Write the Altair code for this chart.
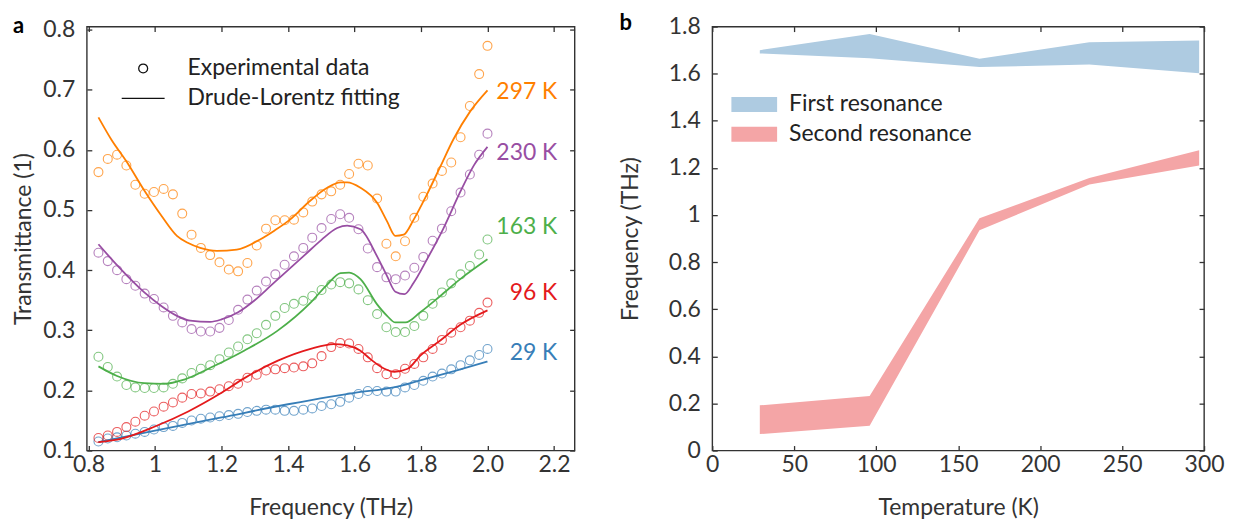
import altair as alt
import pandas as pd

FONT = "Lato"

# ---------------- panel a : transmittance spectra ----------------
freq = [0.830, 0.858, 0.886, 0.914, 0.941, 0.969, 0.997, 1.026, 1.054, 1.082,
        1.110, 1.138, 1.166, 1.194, 1.222, 1.250, 1.278, 1.306, 1.334, 1.362,
        1.390, 1.418, 1.446, 1.473, 1.501, 1.530, 1.557, 1.584, 1.612, 1.640,
        1.668, 1.696, 1.724, 1.752, 1.780, 1.807, 1.835, 1.863, 1.891, 1.919,
        1.947, 1.975, 2.000]

exp_29 = [0.115, 0.120, 0.122, 0.125, 0.128, 0.131, 0.135, 0.139, 0.141, 0.146,
          0.150, 0.153, 0.155, 0.157, 0.159, 0.161, 0.164, 0.166, 0.168, 0.168,
          0.166, 0.166, 0.168, 0.170, 0.174, 0.177, 0.181, 0.188, 0.194, 0.199,
          0.199, 0.198, 0.198, 0.205, 0.209, 0.216, 0.223, 0.228, 0.235, 0.242,
          0.250, 0.259, 0.269]
exp_96 = [0.121, 0.125, 0.131, 0.139, 0.148, 0.158, 0.165, 0.173, 0.180, 0.188,
          0.194, 0.195, 0.198, 0.202, 0.207, 0.211, 0.221, 0.226, 0.233, 0.235,
          0.237, 0.238, 0.240, 0.245, 0.257, 0.272, 0.279, 0.278, 0.269, 0.255,
          0.237, 0.227, 0.227, 0.236, 0.244, 0.255, 0.269, 0.284, 0.296, 0.305,
          0.316, 0.329, 0.346]
exp_163 = [0.256, 0.239, 0.223, 0.209, 0.205, 0.204, 0.204, 0.205, 0.211, 0.220,
           0.229, 0.236, 0.242, 0.252, 0.263, 0.273, 0.285, 0.295, 0.309, 0.324,
           0.337, 0.344, 0.349, 0.357, 0.367, 0.376, 0.380, 0.378, 0.368, 0.350,
           0.327, 0.305, 0.297, 0.297, 0.307, 0.324, 0.344, 0.363, 0.378, 0.393,
           0.407, 0.426, 0.451]
exp_230 = [0.429, 0.415, 0.400, 0.385, 0.374, 0.361, 0.352, 0.338, 0.324, 0.313,
           0.302, 0.298, 0.298, 0.304, 0.317, 0.334, 0.351, 0.366, 0.381, 0.393,
           0.409, 0.423, 0.437, 0.454, 0.470, 0.485, 0.493, 0.487, 0.468, 0.436,
           0.405, 0.388, 0.385, 0.391, 0.404, 0.422, 0.449, 0.469, 0.498, 0.529,
           0.559, 0.592, 0.627]
exp_297 = [0.563, 0.585, 0.592, 0.574, 0.542, 0.527, 0.530, 0.535, 0.526, 0.494,
           0.459, 0.437, 0.425, 0.413, 0.401, 0.398, 0.412, 0.441, 0.469, 0.483,
           0.483, 0.484, 0.496, 0.514, 0.526, 0.531, 0.542, 0.560, 0.577, 0.574,
           0.519, 0.444, 0.423, 0.448, 0.487, 0.522, 0.544, 0.565, 0.579, 0.621,
           0.673, 0.726, 0.773]

fit_29_f = [0.83, 1.0, 1.2, 1.4, 1.52, 1.6, 1.718, 1.8, 1.9, 2.0]
fit_29_v = [0.114, 0.133, 0.155, 0.177, 0.189, 0.196, 0.205, 0.217, 0.232, 0.248]
fit_96_f = [0.83, 0.9, 1.0, 1.1, 1.2, 1.268, 1.368, 1.468, 1.538, 1.578, 1.618,
            1.648, 1.69, 1.72, 1.76, 1.798, 1.858, 1.918, 2.0]
fit_96_v = [0.114, 0.120, 0.140, 0.165, 0.196, 0.220, 0.249, 0.269, 0.277, 0.275, 0.266,
            0.252, 0.236, 0.231, 0.236, 0.258, 0.283, 0.309, 0.333]
fit_163_f = [0.83, 0.886, 0.968, 1.028, 1.088, 1.168, 1.268, 1.368, 1.468, 1.518, 1.558,
             1.584, 1.618, 1.668, 1.698, 1.723, 1.753, 1.798, 1.858, 1.918, 2.0]
fit_163_v = [0.240, 0.224, 0.212, 0.211, 0.218, 0.238, 0.266, 0.299, 0.346, 0.376, 0.395,
             0.396, 0.385, 0.343, 0.324, 0.313, 0.313, 0.330, 0.357, 0.385, 0.418]
fit_230_f = [0.83, 0.888, 0.968, 1.02, 1.066, 1.106, 1.166, 1.2, 1.25, 1.3, 1.35, 1.4,
             1.45, 1.5, 1.548, 1.578, 1.618, 1.668, 1.698, 1.723, 1.75, 1.778, 1.818,
             1.868, 1.918, 1.96, 2.0]
fit_230_v = [0.443, 0.407, 0.363, 0.340, 0.324, 0.316, 0.314, 0.318, 0.330, 0.350, 0.375, 0.400,
             0.425, 0.450, 0.470, 0.474, 0.468, 0.423, 0.390, 0.364, 0.360, 0.379, 0.418,
             0.470, 0.530, 0.575, 0.605]
fit_297_f = [0.83, 0.87, 0.914, 0.966, 1.02, 1.066, 1.10, 1.136, 1.186, 1.246, 1.316, 1.36,
             1.406, 1.466, 1.518, 1.558, 1.578, 1.618, 1.668, 1.698, 1.723, 1.748, 1.778,
             1.818, 1.858, 1.898, 1.948, 2.0]
fit_297_v = [0.654, 0.616, 0.581, 0.534, 0.490, 0.457, 0.445, 0.437, 0.432, 0.434, 0.451, 0.466,
             0.484, 0.515, 0.537, 0.546, 0.546, 0.537, 0.512, 0.481, 0.457, 0.459, 0.484,
             0.526, 0.572, 0.618, 0.664, 0.699]

series_names = ["297 K", "230 K", "163 K", "96 K", "29 K"]
series_colors = ["#ff7f00", "#984ea3", "#4daf4a", "#e41a1c", "#377eb8"]
label_pos_f = 2.21
label_pos_v = [0.697, 0.595, 0.4715, 0.3627, 0.263]
legend_a_items = ["Experimental data", "Drude-Lorentz fitting"]

x_ticks_a = [0.8, 1.0, 1.2, 1.4, 1.6, 1.8, 2.0, 2.2]
y_ticks_a = [0.1, 0.2, 0.3, 0.4, 0.5, 0.6, 0.7, 0.8]

# ---------------- panel b : resonance bands ----------------
temps = [29, 96, 163, 230, 297]
first_lo = [1.686, 1.666, 1.628, 1.639, 1.602]
first_hi = [1.700, 1.769, 1.663, 1.733, 1.741]
second_lo = [0.070, 0.105, 0.935, 1.130, 1.210]
second_hi = [0.192, 0.232, 0.986, 1.157, 1.275]
band_names = ["First resonance", "Second resonance"]
band_colors = ["#aecbe1", "#f4a5a6"]
x_ticks_b = [0, 50, 100, 150, 200, 250, 300]
y_ticks_b = [0, 0.2, 0.4, 0.6, 0.8, 1.0, 1.2, 1.4, 1.6, 1.8]

# ---------------- tables ----------------
exp_map = {"29 K": exp_29, "96 K": exp_96, "163 K": exp_163, "230 K": exp_230, "297 K": exp_297}
fit_map = {"29 K": (fit_29_f, fit_29_v), "96 K": (fit_96_f, fit_96_v),
           "163 K": (fit_163_f, fit_163_v), "230 K": (fit_230_f, fit_230_v),
           "297 K": (fit_297_f, fit_297_v)}

pts = pd.DataFrame([{"f": f, "v": v, "series": s, "kind": legend_a_items[0]}
                    for s, vals in exp_map.items() for f, v in zip(freq, vals)])
fits = pd.DataFrame([{"f": f, "v": v, "series": s}
                     for s, (fs, vs) in fit_map.items() for f, v in zip(fs, vs)])
labs = pd.DataFrame({"f": [label_pos_f] * 5, "v": label_pos_v, "series": series_names})

bands = pd.DataFrame(
    [{"T": t, "lo": lo, "hi": hi, "res": band_names[0]} for t, lo, hi in zip(temps, first_lo, first_hi)]
    + [{"T": t, "lo": lo, "hi": hi, "res": band_names[1]} for t, lo, hi in zip(temps, second_lo, second_hi)]
)

FS = 23
frame = alt.ViewBackground(stroke="#333333", strokeWidth=1.4)

# ---------------- panel a chart ----------------
xa = alt.Scale(domain=[0.795, 2.262], nice=False, zero=False)
ya = alt.Scale(domain=[0.1, 0.805], nice=False, zero=False)
col = alt.Scale(domain=series_names, range=series_colors)

leg_a = alt.Legend(orient="none", legendX=34, legendY=31, title=None,
                   symbolStrokeColor="#111111", symbolStrokeWidth=1.3,
                   symbolFillColor="transparent", symbolOpacity=1,
                   labelFont=FONT, labelFontSize=FS, labelColor="#222222", labelLimit=0,
                   labelOffset=22, clipHeight=22, rowPadding=7, padding=0)

points = alt.Chart(pts).mark_point(filled=False, strokeWidth=1.1).encode(
    x=alt.X("f:Q", scale=xa,
            axis=alt.Axis(values=x_ticks_a, title="Frequency (THz)",
                          labelExpr="datum.value == 2 ? '2.0' : format(datum.value, '~g')")),
    y=alt.Y("v:Q", scale=ya,
            axis=alt.Axis(values=y_ticks_a, format="~g", title="Transmittance (1)", titlePadding=7)),
    color=alt.Color("series:N", scale=col, legend=None),
    shape=alt.Shape("kind:N", scale=alt.Scale(domain=legend_a_items, range=["circle", "stroke"]),
                    legend=leg_a),
    size=alt.Size("kind:N", scale=alt.Scale(type="ordinal", domain=legend_a_items, range=[80, 1849]),
                  legend=leg_a),
)

lines = alt.Chart(fits).mark_line(strokeWidth=1.8, interpolate="monotone").encode(
    x=alt.X("f:Q", scale=xa, axis=alt.Axis(orient="top", values=x_ticks_a, labels=False, title=None)),
    y=alt.Y("v:Q", scale=ya, axis=alt.Axis(orient="right", values=y_ticks_a, labels=False, title=None)),
    color=alt.Color("series:N", scale=col, legend=None),
)

texts = alt.Chart(labs).mark_text(align="right", baseline="middle", font=FONT, fontSize=FS).encode(
    x=alt.X("f:Q", scale=xa, axis=None),
    y=alt.Y("v:Q", scale=ya, axis=None),
    text="series:N",
    color=alt.Color("series:N", scale=col, legend=None),
)

panel_a = alt.layer(points, lines, texts).resolve_axis(x="independent", y="independent").properties(
    width=489, height=425, view=frame,
    title=alt.TitleParams(text="a", anchor="start", frame="group", dx=-74, fontSize=22,
                          fontWeight="bold", font=FONT, color="#000000", offset=-19),
)

# ---------------- panel b chart ----------------
xb = alt.Scale(domain=[0, 300], nice=False, zero=False)
yb = alt.Scale(domain=[0, 1.8], nice=False, zero=False)
res_scale = alt.Scale(domain=band_names, range=band_colors)

leg_b = alt.Legend(orient="none", legendX=19, legendY=67, title=None,
                   symbolType="M-1,-0.326L1,-0.326L1,0.326L-1,0.326Z", symbolSize=2116,
                   symbolStrokeWidth=0, symbolOpacity=1, labelLimit=0,
                   labelFont=FONT, labelFontSize=FS, labelColor="#222222",
                   labelOffset=12, clipHeight=22, rowPadding=7, padding=0)

band_marks = alt.Chart(bands).mark_area(opacity=1, interpolate="linear").encode(
    x=alt.X("T:Q", scale=xb, axis=alt.Axis(values=x_ticks_b, title="Temperature (K)")),
    y=alt.Y("lo:Q", scale=yb,
            axis=alt.Axis(values=y_ticks_b, format="~g", title="Frequency (THz)", titlePadding=26)),
    y2="hi:Q",
    color=alt.Color("res:N", scale=res_scale, legend=leg_b),
)

band_frame = alt.Chart(bands).mark_area(opacity=0).encode(
    x=alt.X("T:Q", scale=xb, axis=alt.Axis(orient="top", values=x_ticks_b, labels=False, title=None)),
    y=alt.Y("lo:Q", scale=yb, axis=alt.Axis(orient="right", values=y_ticks_b, labels=False, title=None)),
    y2="hi:Q",
    detail="res:N",
)

panel_b = alt.layer(band_marks, band_frame).resolve_axis(x="independent", y="independent").properties(
    width=493, height=425, view=frame,
    title=alt.TitleParams(text="b", anchor="start", frame="group", dx=-93, fontSize=22,
                          fontWeight="bold", font=FONT, color="#000000", offset=-19),
)

chart = (
    alt.hconcat(panel_a, panel_b, spacing=42)
    .resolve_scale(color="independent", shape="independent", size="independent")
    .resolve_legend(color="independent", shape="independent", size="independent")
    .properties(padding={"left": 4, "right": 4, "top": 2, "bottom": 4})
    .configure_view(stroke="#333333", strokeWidth=1.4)
    .configure_axis(domain=False, grid=False, ticks=True, tickColor="#333333", tickWidth=1.3,
                    tickSize=5, offset=-5, labelFont=FONT, labelFontSize=FS, labelColor="#333333",
                    titleFont=FONT, titleFontSize=FS, titleFontWeight="normal", titleColor="#333333",
                    labelFlush=False)
    .configure_axisX(labelPadding=3, titlePadding=20)
    .configure_axisY(labelPadding=12)
)

chart.save("out.html", embed_options={"renderer": "svg", "actions": False})
